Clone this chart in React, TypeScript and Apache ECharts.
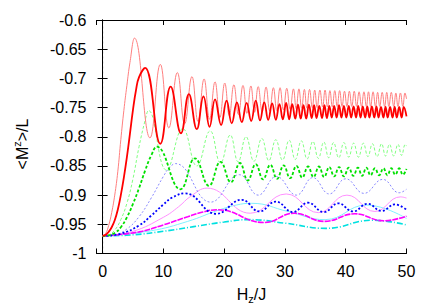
import React, { useEffect, useRef } from "react";
import * as echarts from "echarts";

type P = [number, number];

const xTickValues = [0, 10, 20, 30, 40, 50];
const yTickValues = [-1, -0.95, -0.9, -0.85, -0.8, -0.75, -0.7, -0.65, -0.6];
const zeroLine: P[] = [[0, -1], [0, -0.6]];

const redThin: P[] = [
  [0, -0.97], [0.5, -0.966], [1, -0.952], [1.5, -0.93], [2, -0.9], [2.5, -0.86], [3, -0.805],
  [3.5, -0.755], [4, -0.712], [4.5, -0.673], [5.25, -0.631],
  [7.8, -0.802], [9.5, -0.676], [10.9, -0.785], [12.3, -0.69], [13.5, -0.778], [14.7, -0.697],
  [15.7, -0.774], [16.7, -0.701], [17.6, -0.77], [18.5, -0.706], [19.3, -0.767], [20.1, -0.708],
  [20.85, -0.764], [21.6, -0.711], [22.35, -0.762], [23.1, -0.712], [23.75, -0.76], [24.4, -0.713],
  [25.0, -0.758], [25.6, -0.714], [26.25, -0.757], [26.9, -0.715], [27.5, -0.756], [28.1, -0.716],
  [28.65, -0.755], [29.2, -0.716], [29.75, -0.754], [30.3, -0.717], [30.85, -0.753], [31.4, -0.718],
  [31.85, -0.752], [32.3, -0.718], [32.75, -0.751], [33.2, -0.719], [33.6, -0.751], [34.05, -0.719],
  [34.5, -0.75], [34.9, -0.72], [35.3, -0.75], [35.75, -0.72], [36.2, -0.749], [36.6, -0.72],
  [37.0, -0.749], [37.4, -0.721], [37.8, -0.749], [38.2, -0.721], [38.6, -0.748], [39.0, -0.721],
  [39.4, -0.748], [39.8, -0.722], [40.2, -0.748], [40.6, -0.722], [41.0, -0.748], [41.4, -0.722],
  [41.8, -0.748], [42.2, -0.723], [42.6, -0.748], [43.0, -0.723], [43.4, -0.748], [43.75, -0.723],
  [44.1, -0.748], [44.5, -0.723], [44.9, -0.748], [45.25, -0.724], [45.6, -0.748], [46.0, -0.724],
  [46.4, -0.748], [46.75, -0.724], [47.1, -0.748], [47.5, -0.724], [47.9, -0.748], [48.25, -0.725],
  [48.6, -0.748], [49.0, -0.725], [49.4, -0.748], [49.75, -0.725], [50, -0.735],
];

const redThick: P[] = [
  [0, -0.97], [0.5, -0.968], [1, -0.963], [1.5, -0.955], [2, -0.943], [2.5, -0.925], [3, -0.9],
  [3.5, -0.87], [4, -0.835], [4.5, -0.795], [5, -0.754], [5.5, -0.72], [6, -0.698], [7.0, -0.682],
  [9.5, -0.812], [11.2, -0.714], [12.9, -0.794], [14.2, -0.727], [15.5, -0.787], [16.6, -0.731],
  [17.6, -0.783], [18.5, -0.736], [19.5, -0.78], [20.4, -0.738], [21.25, -0.777], [22.1, -0.741],
  [22.9, -0.775], [23.7, -0.742], [24.45, -0.773], [25.2, -0.738], [25.9, -0.772], [26.6, -0.741],
  [27.25, -0.771], [27.9, -0.743], [28.5, -0.771], [29.1, -0.744], [29.65, -0.77], [30.2, -0.742],
  [30.7, -0.77], [31.2, -0.744], [31.7, -0.769], [32.15, -0.745], [32.6, -0.769], [33.05, -0.746],
  [33.5, -0.769], [33.95, -0.745], [34.4, -0.768], [34.8, -0.746], [35.2, -0.768], [35.65, -0.747],
  [36.1, -0.768], [36.5, -0.746], [36.9, -0.768], [37.3, -0.747], [37.7, -0.767], [38.1, -0.747],
  [38.5, -0.767], [38.9, -0.746], [39.3, -0.767], [39.7, -0.747], [40.1, -0.767], [40.5, -0.747],
  [40.9, -0.767], [41.3, -0.748], [41.7, -0.767], [42.05, -0.747], [42.45, -0.767], [42.8, -0.748],
  [43.2, -0.767], [43.55, -0.748], [43.9, -0.767], [44.3, -0.748], [44.7, -0.767], [45.05, -0.748],
  [45.4, -0.767], [45.8, -0.749], [46.2, -0.767], [46.55, -0.749], [46.9, -0.767], [47.3, -0.749],
  [47.7, -0.767], [48.05, -0.749], [48.4, -0.767], [48.8, -0.749], [49.2, -0.767], [49.55, -0.749],
  [50, -0.765],
];

const greenThin: P[] = [
  [0, -0.97], [1, -0.968], [2, -0.96], [3, -0.942], [4, -0.914], [5, -0.872], [6, -0.817], [7, -0.772],
  [7.55, -0.755],
  [10.5, -0.857], [13.2, -0.786], [15.5, -0.85], [17.7, -0.79], [19.4, -0.845], [21.0, -0.797],
  [22.3, -0.843], [23.6, -0.8], [24.9, -0.842], [26.2, -0.803], [27.35, -0.841], [28.5, -0.805],
  [29.6, -0.84], [30.7, -0.806], [31.7, -0.839], [32.7, -0.807], [33.65, -0.838], [34.6, -0.808],
  [35.5, -0.837], [36.4, -0.809], [37.2, -0.836], [38.0, -0.81], [38.85, -0.836], [39.7, -0.81],
  [40.5, -0.835], [41.3, -0.811], [42.1, -0.835], [42.9, -0.811], [43.65, -0.834], [44.4, -0.812],
  [45.15, -0.834], [45.9, -0.812], [46.55, -0.833], [47.2, -0.813], [47.9, -0.833], [48.6, -0.813],
  [49.2, -0.832], [49.8, -0.813], [50, -0.816],
];

const greenThick: P[] = [
  [0, -0.97], [1, -0.969], [2, -0.965], [3, -0.955], [4, -0.938], [5, -0.915], [6, -0.888], [7, -0.858],
  [8, -0.832], [8.9, -0.817],
  [12.8, -0.89], [15.2, -0.837], [17.5, -0.884], [19.4, -0.843], [21.1, -0.878],
  [22.6, -0.845], [23.9, -0.875], [25.2, -0.847], [26.4, -0.873], [27.6, -0.848], [28.7, -0.872],
  [29.8, -0.849], [30.85, -0.871], [31.9, -0.85], [32.85, -0.87], [33.8, -0.851], [34.7, -0.869],
  [35.6, -0.851], [36.45, -0.869], [37.3, -0.852], [38.1, -0.868], [38.9, -0.852], [39.7, -0.868],
  [40.5, -0.853], [41.25, -0.867], [42.0, -0.853], [42.7, -0.867], [43.4, -0.853], [44.1, -0.866],
  [44.8, -0.854], [45.5, -0.866], [46.2, -0.854], [46.85, -0.866], [47.5, -0.854], [48.15, -0.865],
  [48.8, -0.854], [49.4, -0.865], [50, -0.855],
];

const blueThin: P[] = [
  [0, -0.97], [2, -0.968], [4, -0.958], [6, -0.937], [8, -0.905], [10, -0.868], [11, -0.853], [12.0, -0.846],
  [17.8, -0.912], [22.5, -0.865], [25.6, -0.9], [28.6, -0.868], [31.9, -0.9], [34.6, -0.87],
  [37.3, -0.898], [40.0, -0.872], [43.0, -0.897], [46.1, -0.873], [48.8, -0.896], [50, -0.89],
];

const blueThick: P[] = [
  [0, -0.97], [3, -0.966], [6, -0.952], [8, -0.935], [10, -0.916], [11.5, -0.904], [13.6, -0.897],
  [18.7, -0.932],
  [22.9, -0.908], [25.8, -0.928], [28.5, -0.911], [31.3, -0.929], [33.8, -0.913], [36.4, -0.929],
  [38.8, -0.914], [41.2, -0.928], [43.6, -0.915], [45.9, -0.927], [48.1, -0.916], [50, -0.925],
];

const magentaThin: P[] = [
  [0, -0.97], [5, -0.962], [10, -0.938], [12.5, -0.92], [14.5, -0.902], [17.2, -0.888], [24.3, -0.931],
  [30.2, -0.898], [35.5, -0.93], [40.2, -0.9], [44.8, -0.928], [49, -0.903], [50, -0.905],
];

const magentaThick: P[] = [
  [0, -0.97], [6, -0.963], [10, -0.951], [14, -0.937], [16.5, -0.929], [18.9, -0.925], [26.6, -0.947],
  [31.5, -0.931], [36.5, -0.945], [41.5, -0.932], [46.2, -0.944], [50, -0.936],
];

const cyanThin: P[] = [
  [0, -0.97], [8, -0.961], [14, -0.945], [19, -0.926], [22, -0.917], [24.5, -0.914], [30.5, -0.928],
  [36.6, -0.942], [43.4, -0.917], [50, -0.94],
];

const cyanThick: P[] = [
  [0, -0.97], [5, -0.968], [10, -0.962], [15, -0.954], [20, -0.946], [24.1, -0.942], [30, -0.948],
  [36.7, -0.957], [44.4, -0.943], [50, -0.951],
];

const FONT = "Liberation Sans";

function curve(data: P[], color: string, width: number, type: any) {
  return {
    type: "line",
    data,
    showSymbol: false,
    smooth: 0.45,
    silent: true,
    z: 3,
    lineStyle: { color, width, type },
  };
}

export default function App() {
  const ref = useRef<HTMLDivElement>(null);
  useEffect(() => {
    if (!ref.current) return;
    const chart = echarts.init(ref.current, undefined, { renderer: "svg" });
    const axisCommon = {
      min: -1,
      max: 50,
      axisLine: { show: true, lineStyle: { color: "#000", width: 1 } },
      axisTick: { show: true, inside: true, length: 5, lineStyle: { color: "#000" } },
      splitLine: { show: false },
    };
    chart.setOption({
      animation: false,
      backgroundColor: "#fff",
      grid: { left: 96.5, right: 29.5, top: 20, bottom: 51.5, containLabel: false },
      xAxis: [
        {
          type: "value",
          position: "bottom",
          ...axisCommon,
          axisLabel: {
            show: true,
            margin: 10,
            color: "#000",
            fontFamily: FONT,
            fontSize: 16,
            formatter: (v: number) => (xTickValues.indexOf(v) >= 0 ? String(v) : ""),
          },
        },
        {
          type: "value",
          position: "top",
          ...axisCommon,
          axisLabel: { show: false },
        },
      ],
      yAxis: [
        {
          type: "value",
          position: "left",
          min: -1,
          max: -0.6,
          interval: 0.05,
          axisLine: { show: true, lineStyle: { color: "#000", width: 1 } },
          axisTick: { show: true, inside: true, length: 5, lineStyle: { color: "#000" } },
          splitLine: { show: false },
          axisLabel: {
            margin: 10,
            color: "#000",
            fontFamily: FONT,
            fontSize: 16,
            formatter: (v: number) => {
              const r = Math.round(v * 100) / 100;
              return yTickValues.some((t) => Math.abs(t - r) < 1e-9) ? String(r) : "";
            },
          },
        },
        {
          type: "value",
          position: "right",
          min: -1,
          max: -0.6,
          interval: 0.05,
          axisLine: { show: true, lineStyle: { color: "#000", width: 1 } },
          axisTick: { show: true, inside: true, length: 5, lineStyle: { color: "#000" } },
          splitLine: { show: false },
          axisLabel: { show: false },
        },
      ],
      series: [
        {
          type: "line",
          data: zeroLine,
          showSymbol: false,
          silent: true,
          z: 2,
          lineStyle: { color: "#000", width: 1, type: [2, 3] },
        },
        curve(cyanThin, "#80f0ff", 1, "solid"),
        curve(cyanThick, "#00e0e0", 1.6, [6, 2, 1, 2]),
        curve(magentaThin, "#ff90ff", 1, "solid"),
        curve(magentaThick, "#ff00ff", 1.6, [6, 1]),
        curve(blueThin, "#8888ff", 1, [2, 2]),
        curve(blueThick, "#0000ff", 1.8, [2, 2]),
        curve(greenThin, "#80ff80", 1, [3, 2]),
        curve(greenThick, "#00e000", 1.8, [3, 2]),
        curve(redThin, "#ff7f7f", 1, "solid"),
        curve(redThick, "#ff0000", 1.8, "solid"),
      ],
      graphic: [
        {
          type: "text",
          x: 22,
          y: 144,
          rotation: Math.PI / 2,
          style: {
            text: "{n|<M}{s|z}{n|>/L}",
            textAlign: "center",
            textVerticalAlign: "middle",
            rich: {
              n: { fontFamily: FONT, fontSize: 16, fill: "#000" },
              s: { fontFamily: FONT, fontSize: 11, fill: "#000", padding: [0, 0, 10, 0] },
            },
          },
        },
        {
          type: "text",
          x: 251.5,
          y: 294,
          style: {
            text: "{n|H}{s|z}{n|/J}",
            textAlign: "center",
            textVerticalAlign: "middle",
            rich: {
              n: { fontFamily: FONT, fontSize: 16, fill: "#000" },
              s: { fontFamily: FONT, fontSize: 11, fill: "#000", padding: [10, 0, 0, 0] },
            },
          },
        },
      ],
    });
    return () => chart.dispose();
  }, []);
  return <div ref={ref} style={{ width: 436, height: 305, position: "absolute", left: 0, top: 0 }} />;
}
